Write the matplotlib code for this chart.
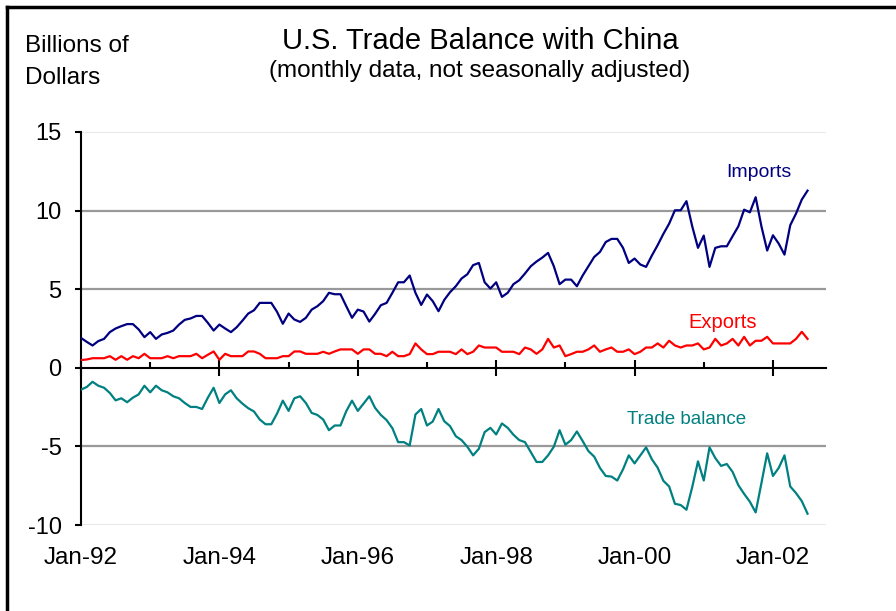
import matplotlib.pyplot as plt
from matplotlib.lines import Line2D
import matplotlib.transforms as mtransforms
import numpy as np

plt.rcParams['font.family'] = ['Liberation Sans', 'DejaVu Sans']

# monthly values, Jan-92 .. Jul-02, billions of dollars
imports = [1.90, 1.65, 1.42, 1.70, 1.84, 2.27, 2.50, 2.65, 2.78, 2.78, 2.44, 1.95,
           2.27, 1.84, 2.12, 2.22, 2.37, 2.75, 3.05, 3.14, 3.30, 3.30, 2.86, 2.37,
           2.75, 2.50, 2.27, 2.58, 3.00, 3.45, 3.66, 4.13, 4.13, 4.13, 3.56, 2.80,
           3.45, 3.07, 2.92, 3.18, 3.70, 3.92, 4.24, 4.77, 4.68, 4.68, 3.92, 3.18,
           3.70, 3.58, 2.94, 3.43, 3.98, 4.13, 4.77, 5.44, 5.44, 5.87, 4.77, 4.00,
           4.66, 4.24, 3.60, 4.32, 4.81, 5.19, 5.68, 5.95, 6.53, 6.67, 5.44, 5.04,
           5.44, 4.51, 4.77, 5.32, 5.57, 6.00, 6.46, 6.76, 7.01, 7.31, 6.46, 5.32,
           5.61, 5.61, 5.19, 5.87, 6.46, 7.05, 7.37, 8.00, 8.20, 8.20, 7.63, 6.67,
           6.95, 6.57, 6.42, 7.14, 7.80, 8.52, 9.17, 10.02, 10.02, 10.60, 9.00, 7.63,
           8.41, 6.42, 7.63, 7.73, 7.73, 8.37, 9.00, 10.06, 9.89, 10.85, 9.00, 7.46,
           8.43, 7.90, 7.20, 9.07, 9.81, 10.70, 11.27]

exports = [0.49, 0.53, 0.61, 0.61, 0.61, 0.74, 0.51, 0.74, 0.51, 0.74, 0.61, 0.89,
           0.61, 0.61, 0.61, 0.74, 0.61, 0.74, 0.74, 0.74, 0.89, 0.61, 0.83, 1.04,
           0.51, 0.89, 0.74, 0.74, 0.74, 1.04, 1.04, 0.89, 0.61, 0.61, 0.61, 0.74,
           0.74, 1.04, 1.04, 0.89, 0.89, 0.89, 1.02, 0.89, 1.04, 1.17, 1.17, 1.17,
           0.89, 1.17, 1.17, 0.89, 0.89, 0.74, 1.02, 0.74, 0.74, 0.87, 1.55, 1.17,
           0.87, 0.87, 1.02, 1.02, 1.02, 0.87, 1.17, 0.87, 1.02, 1.42, 1.29, 1.29,
           1.29, 1.02, 1.02, 1.02, 0.87, 1.29, 1.17, 0.89, 1.17, 1.84, 1.29, 1.42,
           0.74, 0.87, 1.02, 1.02, 1.17, 1.42, 1.02, 1.17, 1.29, 1.02, 1.02, 1.17,
           0.87, 1.02, 1.29, 1.29, 1.55, 1.29, 1.72, 1.42, 1.29, 1.42, 1.42, 1.55,
           1.17, 1.29, 1.84, 1.42, 1.55, 1.84, 1.42, 1.97, 1.42, 1.72, 1.72, 1.97,
           1.55, 1.55, 1.55, 1.55, 1.84, 2.29, 1.84]

balance = [-1.39, -1.22, -0.89, -1.14, -1.27, -1.60, -2.07, -1.94, -2.19, -1.90, -1.69, -1.14,
           -1.56, -1.14, -1.43, -1.56, -1.81, -1.94, -2.24, -2.49, -2.49, -2.62, -1.90, -1.27,
           -2.24, -1.69, -1.43, -1.94, -2.28, -2.57, -2.78, -3.29, -3.59, -3.59, -2.91, -2.09,
           -2.74, -1.94, -1.81, -2.24, -2.87, -3.00, -3.29, -3.97, -3.67, -3.67, -2.76, -2.09,
           -2.74, -2.28, -1.81, -2.55, -3.00, -3.33, -3.84, -4.73, -4.73, -4.94, -2.97, -2.62,
           -3.67, -3.42, -2.62, -3.40, -3.71, -4.35, -4.60, -5.02, -5.57, -5.15, -4.09, -3.82,
           -4.24, -3.54, -3.82, -4.26, -4.60, -4.73, -5.36, -5.99, -5.99, -5.57, -5.02, -3.97,
           -4.89, -4.60, -4.05, -4.66, -5.30, -5.65, -6.37, -6.88, -6.92, -7.17, -6.46, -5.57,
           -6.08, -5.57, -5.06, -5.82, -6.35, -7.19, -7.55, -8.65, -8.73, -9.03, -7.59, -5.95,
           -7.17, -5.06, -5.74, -6.24, -6.12, -6.62, -7.47, -8.02, -8.52, -9.20, -7.34, -5.44,
           -6.88, -6.37, -5.57, -7.55, -7.97, -8.48, -9.28]

year_labels = ['Jan-92', 'Jan-94', 'Jan-96', 'Jan-98', 'Jan-00', 'Jan-02']
y_ticks = [15, 10, 5, 0, -5, -10]
dark_grid = [10, 5, -5]
light_grid = [15, -10]

months = np.arange(len(imports))

fig = plt.figure(figsize=(8.96, 6.11), dpi=100)
ax = fig.add_axes([81/896, 1 - 525/611, 745/896, 393/611])

for g in dark_grid:
    ax.axhline(g, color='#999999', lw=1.6, zorder=1)
for g in light_grid:
    ax.axhline(g, color='#e4e4e4', lw=1.2, zorder=1)

ax.plot(months, imports, color='#000080', lw=1.6, zorder=3)
ax.plot(months, exports, color='#ff0000', lw=1.6, zorder=3)
ax.plot(months, balance, color='#008080', lw=1.6, zorder=3)

ax.set_xlim(0, 129.2)
ax.set_ylim(-10, 15)

for s in ['top', 'right']:
    ax.spines[s].set_visible(False)
ax.spines['left'].set_linewidth(1.5)
ax.spines['bottom'].set_position(('data', 0))
ax.spines['bottom'].set_linewidth(1.5)
ax.spines['bottom'].set_zorder(4)

ax.set_yticks(y_ticks)
ax.set_yticklabels([str(t) for t in y_ticks])
ax.tick_params(axis='y', direction='out', length=4, width=1.5, labelsize=17, pad=10)

major = np.arange(0, 121, 24)
minor = np.arange(12, 121, 24)
ax.set_xticks(major)
ax.set_xticks(minor, minor=True)
ax.tick_params(axis='x', which='major', direction='inout', length=11.5, width=1.5,
               labelbottom=False)
ax.tick_params(axis='x', which='minor', direction='in', length=4, width=1.5)

trans = mtransforms.blended_transform_factory(ax.transData, ax.transAxes)
for m, lab in zip(major, year_labels):
    ax.text(m, -0.084, lab, transform=trans, ha='center', va='center', fontsize=17.5)

ax.text(117.6, 12.4, 'Imports', color='#000080', fontsize=14, ha='center', va='center')
ax.text(111.3, 2.9, 'Exports', color='#ff0000', fontsize=14.5, ha='center', va='center')
ax.text(105, -3.3, 'Trade balance', color='#008080', fontsize=13.5, ha='center', va='center')

fig.text(480/896, 1 - 41/611, 'U.S. Trade Balance with China', ha='center', va='center',
         fontsize=21)
fig.text(480/896, 1 - 71/611, '(monthly data, not seasonally adjusted)', ha='center',
         va='center', fontsize=17.5)
fig.text(25/896, 1 - 46/611, 'Billions of', ha='left', va='center', fontsize=17.5)
fig.text(25/896, 1 - 78/611, 'Dollars', ha='left', va='center', fontsize=17.5)

# frame lines on the left and top edges
fig.add_artist(Line2D([6.5/896, 6.5/896], [0, 1 - 6.5/611], color='black', lw=2.5,
                      transform=fig.transFigure))
fig.add_artist(Line2D([6.5/896, 1], [1 - 6.5/611, 1 - 6.5/611], color='black', lw=2.5,
                      transform=fig.transFigure))

fig.savefig('out.png', dpi=100)
